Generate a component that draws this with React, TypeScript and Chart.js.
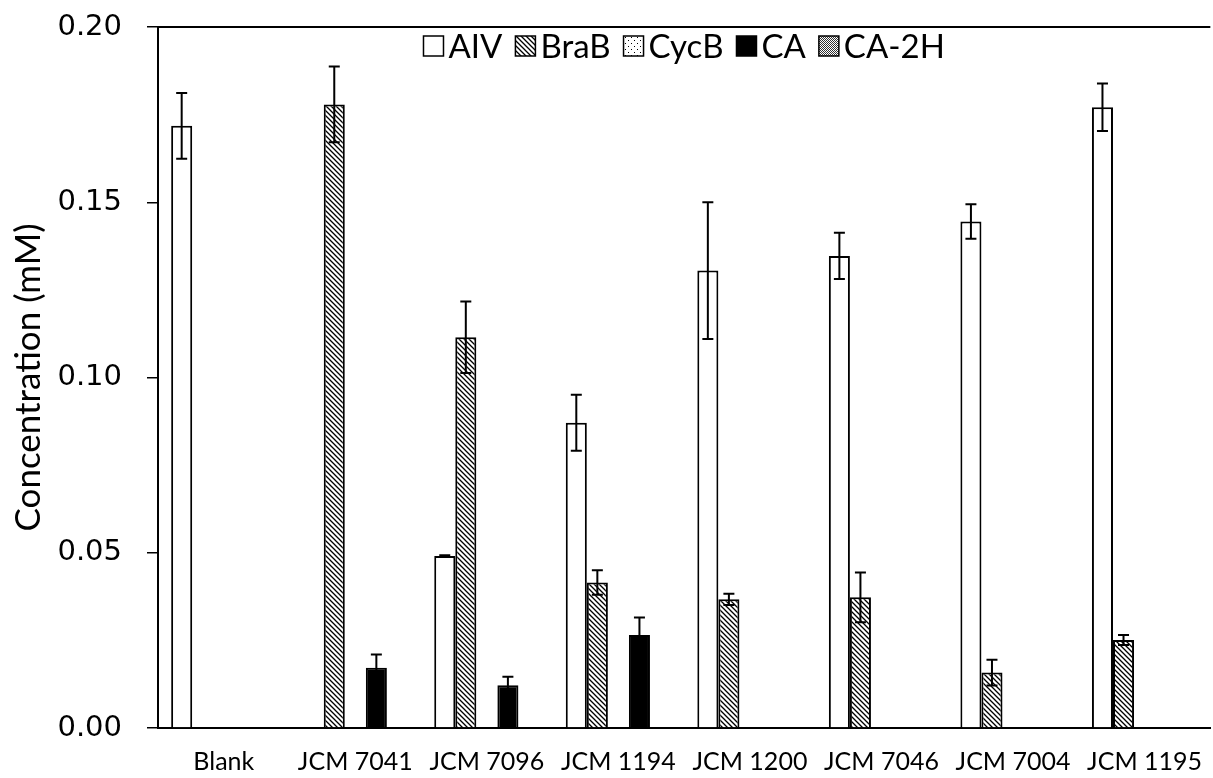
import React, { useEffect, useRef } from "react";
import { Chart, registerables } from "chart.js";

Chart.register(...registerables);

// Strains / controls on the x axis
const categories = ["Blank", "JCM 7041", "JCM 7096", "JCM 1194", "JCM 1200", "JCM 7046", "JCM 7004", "JCM 1195"];

// Mean concentrations (mM) per compound
const aiv = [0.1718, 0, 0.0491, 0.0871, 0.1305, 0.1347, 0.1445, 0.1771];
const braB = [0, 0.1779, 0.1115, 0.0415, 0.0367, 0.0373, 0.0158, 0.0251];
const cycB = [0, 0, 0, 0, 0, 0, 0, 0];
const ca = [0, 0.0172, 0.0122, 0.0265, 0, 0, 0, 0];
const ca2h = [0, 0, 0, 0, 0, 0, 0, 0];

// Standard deviations (mM)
const aivErr = [0.0094, 0, 0.0002, 0.008, 0.0195, 0.0066, 0.0049, 0.0068];
const braBErr = [0, 0.0108, 0.0102, 0.0035, 0.0016, 0.0071, 0.0037, 0.0014];
const cycBErr = [0, 0, 0, 0, 0, 0, 0, 0];
const caErr = [0, 0.0038, 0.0024, 0.005, 0, 0, 0, 0];
const ca2hErr = [0, 0, 0, 0, 0, 0, 0, 0];

const seriesLabels = ["AIV", "BraB", "CycB", "CA", "CA-2H"];
const yTicks = [0, 0.05, 0.1, 0.15, 0.2];

const LABEL_FONT = "Lato, 'Open Sans', sans-serif";
const TICK_FONT = "'DejaVu Sans', sans-serif";

function makeTile(size: number, draw: (g: CanvasRenderingContext2D) => void): CanvasPattern {
  const c = document.createElement("canvas");
  c.width = size;
  c.height = size;
  const g = c.getContext("2d") as CanvasRenderingContext2D;
  g.fillStyle = "#ffffff";
  g.fillRect(0, 0, size, size);
  draw(g);
  const ctx = document.createElement("canvas").getContext("2d") as CanvasRenderingContext2D;
  return ctx.createPattern(c, "repeat") as CanvasPattern;
}

function hatchPattern(): CanvasPattern {
  const s = 5;
  return makeTile(s, (g) => {
    g.strokeStyle = "#000";
    g.lineWidth = 1.3;
    g.beginPath();
    g.moveTo(-1, -1);
    g.lineTo(s + 1, s + 1);
    g.moveTo(-1, s - 1);
    g.lineTo(1, s + 1);
    g.moveTo(s - 1, -1);
    g.lineTo(s + 1, 1);
    g.stroke();
  });
}

function dotPattern(): CanvasPattern {
  return makeTile(6, (g) => {
    g.fillStyle = "#000";
    g.fillRect(1, 1, 1, 1);
    g.fillRect(4, 4, 1, 1);
  });
}

function checkerPattern(): CanvasPattern {
  return makeTile(2, (g) => {
    g.fillStyle = "#333";
    g.fillRect(0, 0, 1, 1);
    g.fillRect(1, 1, 1, 1);
  });
}

const errorBarsPlugin = {
  id: "errorBars",
  afterDatasetsDraw(chart: any) {
    const { ctx, chartArea, scales } = chart;
    const y = scales.y;
    ctx.save();
    ctx.strokeStyle = "#000";
    ctx.lineWidth = 2;
    chart.data.datasets.forEach((ds: any, di: number) => {
      const meta = chart.getDatasetMeta(di);
      (ds.errors || []).forEach((e: number, i: number) => {
        if (!e) return;
        const bar = meta.data[i];
        const v = ds.data[i];
        const top = y.getPixelForValue(v + e);
        const bot = y.getPixelForValue(v - e);
        const x = bar.x;
        ctx.beginPath();
        ctx.moveTo(x, top);
        ctx.lineTo(x, bot);
        ctx.moveTo(x - 5.5, top);
        ctx.lineTo(x + 5.5, top);
        ctx.moveTo(x - 5.5, bot);
        ctx.lineTo(x + 5.5, bot);
        ctx.stroke();
      });
    });
    // upper frame line
    ctx.beginPath();
    ctx.moveTo(chartArea.left, chartArea.top);
    ctx.lineTo(chartArea.right, chartArea.top);
    ctx.stroke();
    ctx.restore();
  },
};

const legendPlugin = {
  id: "insideLegend",
  afterDraw(chart: any) {
    const { ctx, chartArea } = chart;
    const box = 20;
    const gapBoxText = 5;
    const gapItems = 13;
    ctx.save();
    ctx.font = `33px ${LABEL_FONT}`;
    ctx.textBaseline = "middle";
    const items = chart.data.datasets.map((ds: any) => ({
      label: ds.label,
      fill: ds.backgroundColor,
      w: box + gapBoxText + ctx.measureText(ds.label).width,
    }));
    const total = items.reduce((s: number, it: any) => s + it.w, 0) + gapItems * (items.length - 1);
    let x = (chartArea.left + chartArea.right) / 2 - total / 2;
    const cy = chartArea.top + 19;
    items.forEach((it: any) => {
      ctx.fillStyle = it.fill;
      ctx.fillRect(x, cy - box / 2, box, box);
      ctx.strokeStyle = "#000";
      ctx.lineWidth = 1.5;
      ctx.strokeRect(x, cy - box / 2, box, box);
      ctx.fillStyle = "#000";
      ctx.fillText(it.label, x + box + gapBoxText, cy + 1);
      x += it.w + gapItems;
    });
    ctx.restore();
  },
};

export default function App() {
  const ref = useRef<HTMLCanvasElement | null>(null);

  useEffect(() => {
    document.body.style.margin = "0";
    const canvas = ref.current;
    if (!canvas) return;

    const fills = ["#ffffff", hatchPattern(), dotPattern(), "#000000", checkerPattern()];
    const values = [aiv, braB, cycB, ca, ca2h];
    const errors = [aivErr, braBErr, cycBErr, caErr, ca2hErr];

    const chart = new Chart(canvas, {
      type: "bar",
      data: {
        labels: categories,
        datasets: seriesLabels.map((label, i) => ({
          label,
          data: values[i],
          errors: errors[i],
          backgroundColor: fills[i],
          borderColor: "#000",
          borderWidth: 2,
          borderSkipped: "bottom",
          categoryPercentage: 0.8,
          barPercentage: 1.0,
        })) as any,
      },
      options: {
        responsive: false,
        animation: false,
        devicePixelRatio: 1,
        layout: { padding: { top: 27, right: 0, left: 0, bottom: 0 } },
        plugins: {
          legend: { display: false },
          tooltip: { enabled: false },
        },
        scales: {
          x: {
            grid: { display: false },
            border: { display: true, color: "#000", width: 2 },
            ticks: {
              color: "#000",
              font: { family: LABEL_FONT, size: 25 },
              padding: 11,
              maxRotation: 0,
              autoSkip: false,
            },
            afterFit(scale: any) {
              scale.height = 50;
            },
          },
          y: {
            min: 0,
            max: 0.2,
            afterBuildTicks(scale: any) {
              scale.ticks = yTicks.map((v) => ({ value: v }));
            },
            grid: {
              drawOnChartArea: false,
              drawTicks: true,
              tickLength: 11,
              color: "#000",
              lineWidth: 1.5,
            },
            border: { display: true, color: "#000", width: 2 },
            ticks: {
              color: "#000",
              font: { family: TICK_FONT, size: 29 },
              padding: 25,
              callback: (v: any) => Number(v).toFixed(2),
            },
            title: {
              display: true,
              text: "Concentration (mM)",
              color: "#000",
              font: { family: LABEL_FONT, size: 35 },
              padding: { top: 8, bottom: 0 },
            },
            afterFit(scale: any) {
              scale.width = 158;
              scale.paddingTop = 0;
              scale.paddingBottom = 0;
            },
          },
        },
      },
      plugins: [errorBarsPlugin, legendPlugin],
    });

    return () => chart.destroy();
  }, []);

  return <canvas ref={ref} width={1213} height={778} style={{ display: "block" }} />;
}
